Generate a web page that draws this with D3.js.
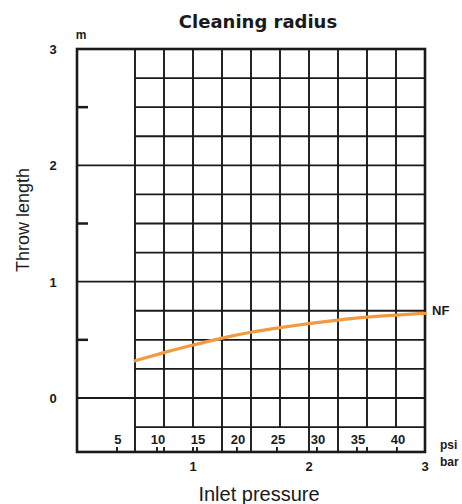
<!DOCTYPE html>
<html>
<head>
<meta charset="utf-8">
<script src="https://cdn.jsdelivr.net/npm/d3@7"></script>
<style>
  body { margin: 0; background: #fff; }
  text { fill: #1a1a1a; }
</style>
</head>
<body>
<div id="chart"></div>
<script>
// throw length (m) vs inlet pressure (bar)
const pressureBar = [0.5, 0.75, 1.0, 1.25, 1.5, 1.75, 2.0, 2.25, 2.5, 2.75, 3.0];
const throwM      = [0.32, 0.39, 0.455, 0.515, 0.565, 0.605, 0.64, 0.67, 0.695, 0.713, 0.728];

const yTicks = [0, 1, 2, 3];
const yHalfTicks = [0.5, 1.5, 2.5];
const barTicks = [1, 2, 3];
const psiTicks = [5, 10, 15, 20, 25, 30, 35, 40];
const psiRowLines = [1.25, 1.5, 2.0, 2.25];   // grid lines that go through the psi row
const stubTicks = [0.75, 1.0, 2.5];           // little stubs at bottom

const width = 462, height = 504;
const PSI_PER_BAR = 14.5038;

const x = d3.scaleLinear().domain([0, 3]).range([77, 425]);
const y = d3.scaleLinear().domain([0, 3]).range([398, 49]);
const yBottom = -0.464;

const svg = d3.select("#chart").append("svg")
  .attr("width", width)
  .attr("height", height);

const ink = "#1a1a1a";
const gridG = svg.append("g").attr("stroke", ink).attr("stroke-width", 1.9);

// horizontal grid lines every 0.25 m
const hVals = d3.range(-0.25, 3, 0.25);
gridG.selectAll("line.h")
  .data(hVals)
  .join("line")
  .attr("x1", d => Number.isInteger(d) ? x(0) : x(0.5))
  .attr("x2", x(3))
  .attr("y1", d => y(d))
  .attr("y2", d => y(d));

// vertical grid lines every 0.25 bar
const vVals = d3.range(0.5, 3, 0.25);
gridG.selectAll("line.v")
  .data(vVals)
  .join("line")
  .attr("x1", d => x(d))
  .attr("x2", d => x(d))
  .attr("y1", y(3))
  .attr("y2", d => (d === 0.5 || psiRowLines.includes(d)) ? y(yBottom) : y(-0.25));

// small stubs up from bottom
gridG.selectAll("line.stub")
  .data(stubTicks)
  .join("line")
  .attr("x1", d => x(d)).attr("x2", d => x(d))
  .attr("y1", y(yBottom)).attr("y2", y(yBottom) - 5);

// psi ticks
gridG.selectAll("line.psi")
  .data(psiTicks)
  .join("line")
  .attr("x1", d => x(d / PSI_PER_BAR)).attr("x2", d => x(d / PSI_PER_BAR))
  .attr("y1", y(yBottom)).attr("y2", y(yBottom) - 5);

// half ticks on left axis
svg.append("g").attr("stroke", ink).attr("stroke-width", 2.5)
  .selectAll("line")
  .data(yHalfTicks)
  .join("line")
  .attr("x1", x(0)).attr("x2", x(0) + 11)
  .attr("y1", d => y(d)).attr("y2", d => y(d));

// frame
svg.append("rect")
  .attr("x", x(0)).attr("y", y(3))
  .attr("width", x(3) - x(0))
  .attr("height", y(yBottom) - y(3))
  .attr("fill", "none")
  .attr("stroke", ink)
  .attr("stroke-width", 2.6);

// curve
const line = d3.line()
  .x((d, i) => x(pressureBar[i]))
  .y(d => y(d))
  .curve(d3.curveNatural);

svg.append("path")
  .datum(throwM)
  .attr("d", line)
  .attr("fill", "none")
  .attr("stroke", "#f29a3f")
  .attr("stroke-width", 3.2)
  .attr("stroke-linecap", "round");

const bold = "'Liberation Sans', Arial, sans-serif";

// y labels
svg.append("g")
  .selectAll("text")
  .data(yTicks)
  .join("text")
  .attr("x", 53).attr("y", d => y(d) + 5)
  .attr("text-anchor", "middle")
  .style("font", `bold 13px ${bold}`)
  .text(d => d);

svg.append("text").attr("x", 81).attr("y", 39)
  .attr("text-anchor", "middle")
  .style("font", `bold 12px ${bold}`).text("m");

// psi labels
svg.append("g")
  .selectAll("text")
  .data(psiTicks)
  .join("text")
  .attr("x", d => x(d / PSI_PER_BAR) + 1)
  .attr("y", 444)
  .attr("text-anchor", "middle")
  .style("font", `bold 13px ${bold}`)
  .text(d => d);

// bar labels
svg.append("g")
  .selectAll("text")
  .data(barTicks)
  .join("text")
  .attr("x", d => x(d))
  .attr("y", 471)
  .attr("text-anchor", "middle")
  .style("font", `bold 13px ${bold}`)
  .text(d => d);

svg.append("text").attr("x", 440).attr("y", 449)
  .style("font", `bold 12px ${bold}`).text("psi");
svg.append("text").attr("x", 440).attr("y", 466)
  .style("font", `bold 12px ${bold}`).text("bar");

svg.append("text").attr("x", 432).attr("y", 315)
  .style("font", `bold 13px ${bold}`).text("NF");

// title and axis titles
svg.append("text")
  .attr("x", 258).attr("y", 28)
  .attr("text-anchor", "middle")
  .style("font", "bold 18px 'DejaVu Sans', sans-serif")
  .text("Cleaning radius");

svg.append("text")
  .attr("x", 259).attr("y", 501)
  .attr("text-anchor", "middle")
  .style("font", "20px 'Liberation Sans', Arial, sans-serif")
  .text("Inlet pressure");

svg.append("text")
  .attr("transform", "translate(29,220) rotate(-90)")
  .attr("text-anchor", "middle")
  .style("font", "18px 'Liberation Sans', Arial, sans-serif")
  .text("Throw length");
</script>
</body>
</html>
